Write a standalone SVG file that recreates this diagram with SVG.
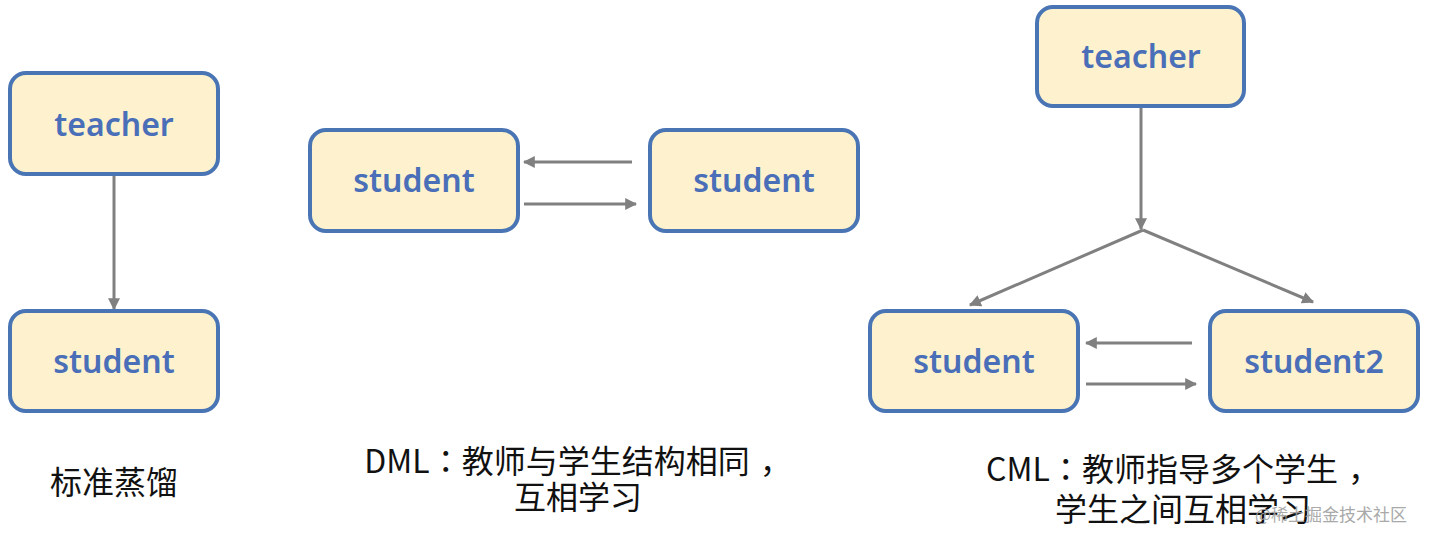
<svg xmlns="http://www.w3.org/2000/svg" width="1430" height="542" viewBox="0 0 1430 542">
<defs>
<style>
.box{fill:#fdf2cd;stroke:#4a75b5;stroke-width:4}
.lbl{font-family:"Noto Sans","Open Sans",sans-serif;font-size:32px;font-weight:600;fill:#4a6fb8;text-anchor:middle}
.cap{font-family:"Noto Sans CJK SC","Noto Sans",sans-serif;font-size:32px;fill:#111;text-anchor:middle}
.p{font-family:"Noto Sans CJK TC",sans-serif}
.ar{stroke:#808080;stroke-width:3;fill:none;marker-end:url(#ah)}
</style>
<marker id="ah" viewBox="0 0 10 10" refX="9" refY="5" markerWidth="4" markerHeight="4" orient="auto" markerUnits="strokeWidth">
<path d="M0,0 L10,5 L0,10 z" fill="#808080"/>
</marker>
</defs>
<rect width="1430" height="542" fill="#ffffff"/>
<g id="connectors">
<line class="ar" x1="114" y1="175" x2="114" y2="309"/>
<line class="ar" x1="632" y1="162" x2="524" y2="162"/>
<line class="ar" x1="524" y1="204" x2="636" y2="204"/>
<line class="ar" x1="1141" y1="107" x2="1141" y2="229"/>
<line class="ar" x1="1143" y1="230" x2="970" y2="305"/>
<line class="ar" x1="1143" y1="230" x2="1313" y2="302"/>
<line class="ar" x1="1192" y1="343" x2="1086" y2="343"/>
<line class="ar" x1="1086" y1="384" x2="1196" y2="384"/>
</g>
<g id="n1"><rect class="box" x="10" y="73" width="208" height="101" rx="16"/><text class="lbl" x="114" y="136">teacher</text></g>
<g id="n2"><rect class="box" x="10" y="311" width="208" height="100" rx="16"/><text class="lbl" x="114" y="373">student</text></g>
<g id="n3"><rect class="box" x="310" y="130" width="208" height="101" rx="16"/><text class="lbl" x="414" y="192">student</text></g>
<g id="n4"><rect class="box" x="650" y="130" width="208" height="101" rx="16"/><text class="lbl" x="754" y="192">student</text></g>
<g id="n5"><rect class="box" x="1037" y="7" width="207" height="99" rx="16"/><text class="lbl" x="1141" y="68">teacher</text></g>
<g id="n6"><rect class="box" x="870" y="311" width="208" height="100" rx="16"/><text class="lbl" x="974" y="373">student</text></g>
<g id="n7"><rect class="box" x="1210" y="311" width="208" height="100" rx="16"/><text class="lbl" x="1314" y="373">student2</text></g>
<g id="captions">
<text class="cap" x="114" y="494">标准蒸馏</text>
<text class="cap" x="578" y="473">DML<tspan class="p">：</tspan>教师与学生结构相同<tspan dx="10">，</tspan></text>
<text class="cap" x="578" y="509">互相学习</text>
<text class="cap" x="1183" y="481">CML<tspan class="p">：</tspan>教师指导多个学生<tspan dx="10">，</tspan></text>
<text class="cap" x="1183" y="521">学生之间互相学习</text>
<text x="1331" y="521" font-family="Noto Sans CJK SC,sans-serif" font-size="17" fill="#a0a0a0" text-anchor="middle" opacity="0.9">@稀土掘金技术社区</text>
</g>
</svg>
